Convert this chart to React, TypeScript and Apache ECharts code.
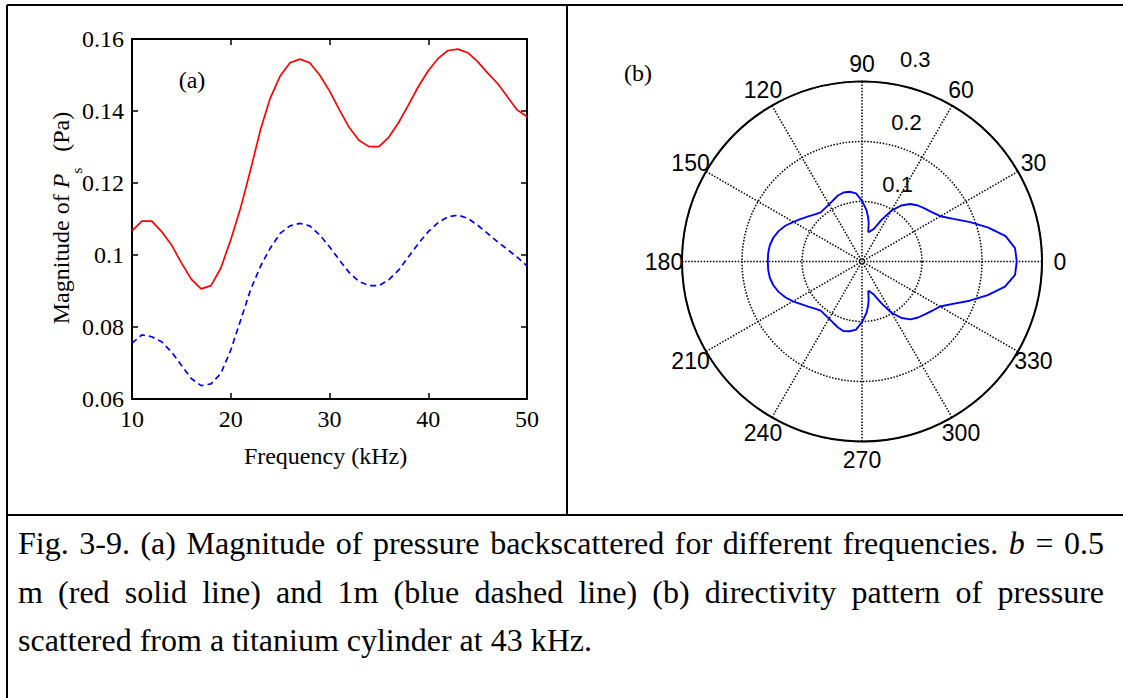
import React, { useEffect, useRef } from "react";
import * as echarts from "echarts";

// ---------------- data ----------------
const freqKHz = [10, 11, 12, 13, 14, 15, 16, 17, 18, 19, 20, 21, 22, 23, 24, 25, 26, 27, 28, 29, 30, 31, 32, 33, 34, 35, 36, 37, 38, 39, 40, 41, 42, 43, 44, 45, 46, 47, 48, 49, 50];
// b = 0.5 m (red solid)
const redSolidB05 = [0.1067, 0.1094, 0.1094, 0.1065, 0.1028, 0.0978, 0.0933, 0.0906, 0.0915, 0.0964, 0.1042, 0.1131, 0.1236, 0.1347, 0.1436, 0.1497, 0.1534, 0.1544, 0.1534, 0.15, 0.1456, 0.1403, 0.1354, 0.1318, 0.1301, 0.1301, 0.1327, 0.1368, 0.1417, 0.1468, 0.1512, 0.1546, 0.1568, 0.1572, 0.1562, 0.1537, 0.1506, 0.1477, 0.144, 0.1403, 0.1384];
// b = 1 m (blue dashed)
const blueDashedB1 = [0.0755, 0.0778, 0.0773, 0.0759, 0.0731, 0.0694, 0.0657, 0.0637, 0.0642, 0.0671, 0.0736, 0.0819, 0.0903, 0.0968, 0.1019, 0.106, 0.1081, 0.1088, 0.1081, 0.1056, 0.1023, 0.0986, 0.0951, 0.0926, 0.0915, 0.0915, 0.0931, 0.0958, 0.0995, 0.1032, 0.1065, 0.109, 0.1106, 0.1111, 0.1102, 0.1083, 0.106, 0.1037, 0.1016, 0.0994, 0.097];

// directivity pattern at 43 kHz
const polarAngles = [0, 5, 10, 15, 20, 25, 30, 35, 40, 45, 50, 55, 60, 65, 70, 75, 78, 80, 82, 85, 90, 95, 100, 105, 110, 115, 120, 125, 130, 135, 140, 145, 150, 155, 160, 165, 170, 175, 180, 185, 190, 195, 200, 205, 210, 215, 220, 225, 230, 235, 240, 245, 250, 255, 260, 265, 270, 275, 278, 280, 282, 285, 290, 295, 300, 305, 310, 315, 320, 325, 330, 335, 340, 345, 350, 355, 360];
const polarRadii = [0.258, 0.256, 0.243, 0.218, 0.192, 0.168, 0.151, 0.143, 0.137, 0.132, 0.125, 0.114, 0.098, 0.076, 0.058, 0.052, 0.05, 0.064, 0.074, 0.086, 0.101, 0.114, 0.118, 0.119, 0.117, 0.113, 0.11, 0.108, 0.107, 0.111, 0.117, 0.124, 0.132, 0.141, 0.148, 0.153, 0.156, 0.157, 0.157, 0.157, 0.156, 0.153, 0.148, 0.141, 0.133, 0.124, 0.117, 0.111, 0.107, 0.108, 0.11, 0.113, 0.117, 0.12, 0.118, 0.114, 0.101, 0.086, 0.074, 0.064, 0.05, 0.052, 0.059, 0.077, 0.099, 0.115, 0.126, 0.132, 0.137, 0.143, 0.15, 0.167, 0.191, 0.217, 0.242, 0.256, 0.258];

const angleTickLabels = [0, 30, 60, 90, 120, 150, 180, 210, 240, 270, 300, 330];
const radiusTickLabels = [0.1, 0.2, 0.3];

const yTitleParts = ["Magnitude of ", "P", "s", "(Pa)"];
const xTitle = "Frequency (kHz)";

const captionLine1 = ["Fig.", "3-9.", "(a)", "Magnitude", "of", "pressure", "backscattered", "for", "different", "frequencies.", "b", "=", "0.5"];
const captionLine2 = ["m", "(red", "solid", "line)", "and", "1m", "(blue", "dashed", "line)", "(b)", "directivity", "pattern", "of", "pressure"];
const captionLine3 = "scattered from a titanium cylinder at 43 kHz.";
const captionItalicWord = "b";

// ---------------- layout / style ----------------
const SERIF = '"Liberation Serif", "Times New Roman", serif';
const SANS = '"Liberation Sans", Arial, sans-serif';
const W = 1123;
const H = 698;
const GRID = { left: 132, top: 39, width: 395, height: 360 };
const PC = [862, 261.5];
const PR = 180;
const LEFT_FONT = 24;
const CAP_SIZE = 32;
const CAP_LEFT = 18;
const CAP_RIGHT = 1104;

const measureCtx = document.createElement("canvas").getContext("2d") as CanvasRenderingContext2D;
function measure(text: string, font: string) {
  measureCtx.font = font;
  return measureCtx.measureText(text).width;
}

function justified(words: string[], y: number) {
  const fonts = words.map((w) => `${w === captionItalicWord ? "italic " : ""}${CAP_SIZE}px ${SERIF}`);
  const widths = words.map((w, i) => measure(w, fonts[i]));
  const total = widths.reduce((a, b) => a + b, 0);
  const gap = (CAP_RIGHT - CAP_LEFT - total) / (words.length - 1);
  let x = CAP_LEFT;
  return words.map((w, i) => {
    const el = {
      type: "text",
      x,
      y,
      style: {
        text: w,
        fontSize: CAP_SIZE,
        fontFamily: SERIF,
        fontStyle: w === captionItalicWord ? "italic" : "normal",
        fill: "#000",
        align: "left",
        textAlign: "left",
        verticalAlign: "middle",
        textVerticalAlign: "middle",
      },
    };
    x += widths[i] + gap;
    return el;
  });
}

function lineEl(x1: number, y1: number, x2: number, y2: number) {
  return { type: "line", shape: { x1, y1, x2, y2 }, style: { stroke: "#000", lineWidth: 2 } };
}

function textEl(x: number, y: number, text: string, fontSize: number, family: string, align = "center") {
  return {
    type: "text",
    x,
    y,
    style: {
      text,
      fontSize,
      fontFamily: family,
      fill: "#000",
      align,
      textAlign: align,
      verticalAlign: "middle",
      textVerticalAlign: "middle",
    },
  };
}

// y-axis title: rotated segments laid out upward with measured widths
function yTitle() {
  const mainX = 61;
  const subX = 77;
  const centerY = 218;
  const subSize = 15;
  const gapBeforeUnit = 16;
  const fonts = [
    `${LEFT_FONT}px ${SERIF}`,
    `italic ${LEFT_FONT}px ${SERIF}`,
    `${subSize}px ${SERIF}`,
    `${LEFT_FONT}px ${SERIF}`,
  ];
  const widths = yTitleParts.map((t, i) => measure(t, fonts[i]));
  const total = widths.reduce((a, b) => a + b, 0) + gapBeforeUnit;
  let y = centerY + total / 2;
  const els: any[] = [];
  yTitleParts.forEach((t, i) => {
    if (i === 3) y -= gapBeforeUnit;
    const isSub = i === 2;
    els.push({
      type: "text",
      x: isSub ? subX : mainX,
      y,
      rotation: Math.PI / 2,
      style: {
        text: t,
        fontSize: isSub ? subSize : LEFT_FONT,
        fontFamily: SERIF,
        fontStyle: i === 1 ? "italic" : "normal",
        fill: "#000",
        align: "left",
        textAlign: "left",
        verticalAlign: "middle",
        textVerticalAlign: "middle",
      },
    });
    y -= widths[i];
  });
  return els;
}

function buildOption() {
  const axisBase = {
    type: "value",
    axisLine: { show: true, onZero: false, lineStyle: { color: "#000", width: 2 } },
    axisTick: { show: true, inside: true, length: 6, lineStyle: { color: "#000", width: 1.5 } },
    splitLine: { show: false },
  };
  const tickFont = { fontFamily: SERIF, fontSize: LEFT_FONT, color: "#000" };
  const dotted = { color: "#000", width: 1.5, type: [1.5, 1.6] };

  const angleLabelEls = angleTickLabels.map((a) => {
    const rad = (a * Math.PI) / 180;
    return textEl(PC[0] + 1.1 * PR * Math.cos(rad), PC[1] - 1.1 * PR * Math.sin(rad), String(a), 23, SANS);
  });
  const c82 = Math.cos((82 * Math.PI) / 180);
  const s82 = Math.sin((82 * Math.PI) / 180);
  const radiusLabelEls = radiusTickLabels.map((v) => {
    const r = 1.05 * (v / 0.3) * PR;
    return textEl(PC[0] + c82 * r + 11.6, PC[1] - s82 * r - 14.6, String(v), 22, SANS, "left");
  });

  const graphic: any[] = [
    lineEl(7, 5, W, 5),
    lineEl(7, 5, 7, H),
    lineEl(567, 5, 567, 515),
    lineEl(7, 515, W, 515),
    textEl(192, 80, "(a)", LEFT_FONT, SERIF),
    textEl(638, 73, "(b)", LEFT_FONT, SERIF),
    ...yTitle(),
    ...angleLabelEls,
    ...radiusLabelEls,
    ...justified(captionLine1, 543),
    ...justified(captionLine2, 592),
    textEl(CAP_LEFT, 640, captionLine3, CAP_SIZE, SERIF, "left"),
  ];

  return {
    animation: false,
    backgroundColor: "#fff",
    grid: { ...GRID, containLabel: false },
    xAxis: [
      {
        ...axisBase,
        gridIndex: 0,
        position: "bottom",
        min: 10,
        max: 50,
        interval: 10,
        axisLabel: { ...tickFont, margin: 8 },
        name: xTitle,
        nameLocation: "middle",
        nameGap: 45,
        nameTextStyle: { fontFamily: SERIF, fontSize: LEFT_FONT, color: "#000", padding: [0, 8, 0, 0] },
      },
      { ...axisBase, gridIndex: 0, position: "top", min: 10, max: 50, interval: 10, axisLabel: { show: false } },
    ],
    yAxis: [
      {
        ...axisBase,
        gridIndex: 0,
        position: "left",
        min: 0.06,
        max: 0.16,
        interval: 0.02,
        axisLabel: { ...tickFont, margin: 8, formatter: (v: number) => String(parseFloat(v.toFixed(2))) },
      },
      { ...axisBase, gridIndex: 0, position: "right", min: 0.06, max: 0.16, interval: 0.02, axisLabel: { show: false } },
    ],
    polar: { center: PC, radius: PR },
    angleAxis: {
      type: "value",
      min: 0,
      max: 360,
      interval: 30,
      startAngle: 0,
      clockwise: false,
      axisLine: { show: true, lineStyle: { color: "#000", width: 2 } },
      axisTick: { show: false },
      axisLabel: { show: false },
      splitLine: { show: true, lineStyle: dotted },
    },
    radiusAxis: {
      type: "value",
      min: 0,
      max: 0.3,
      interval: 0.1,
      axisLine: { show: false },
      axisTick: { show: false },
      axisLabel: { show: false },
      splitLine: { show: true, lineStyle: dotted },
    },
    series: [
      {
        name: "b = 0.5 m",
        type: "line",
        xAxisIndex: 0,
        yAxisIndex: 0,
        data: freqKHz.map((f, i) => [f, redSolidB05[i]]),
        symbol: "none",
        showSymbol: false,
        lineStyle: { color: "#ff0000", width: 1.7 },
        itemStyle: { color: "#ff0000" },
      },
      {
        name: "b = 1 m",
        type: "line",
        xAxisIndex: 0,
        yAxisIndex: 0,
        data: freqKHz.map((f, i) => [f, blueDashedB1[i]]),
        symbol: "none",
        showSymbol: false,
        lineStyle: { color: "#0000ff", width: 1.7, type: [6, 4] },
        itemStyle: { color: "#0000ff" },
      },
      {
        name: "directivity 43 kHz",
        type: "line",
        coordinateSystem: "polar",
        polarIndex: 0,
        data: polarAngles.map((a, i) => [polarRadii[i], a]),
        symbol: "none",
        showSymbol: false,
        lineStyle: { color: "#0000ff", width: 1.9 },
        itemStyle: { color: "#0000ff" },
      },
    ],
    graphic,
  };
}

export default function App() {
  const ref = useRef<HTMLDivElement>(null);
  useEffect(() => {
    document.body.style.margin = "0";
    if (!ref.current) return;
    const chart = echarts.init(ref.current, undefined, { renderer: "svg" });
    chart.setOption(buildOption() as any);
    return () => chart.dispose();
  }, []);
  return <div ref={ref} style={{ width: W, height: H, background: "#fff" }} />;
}
